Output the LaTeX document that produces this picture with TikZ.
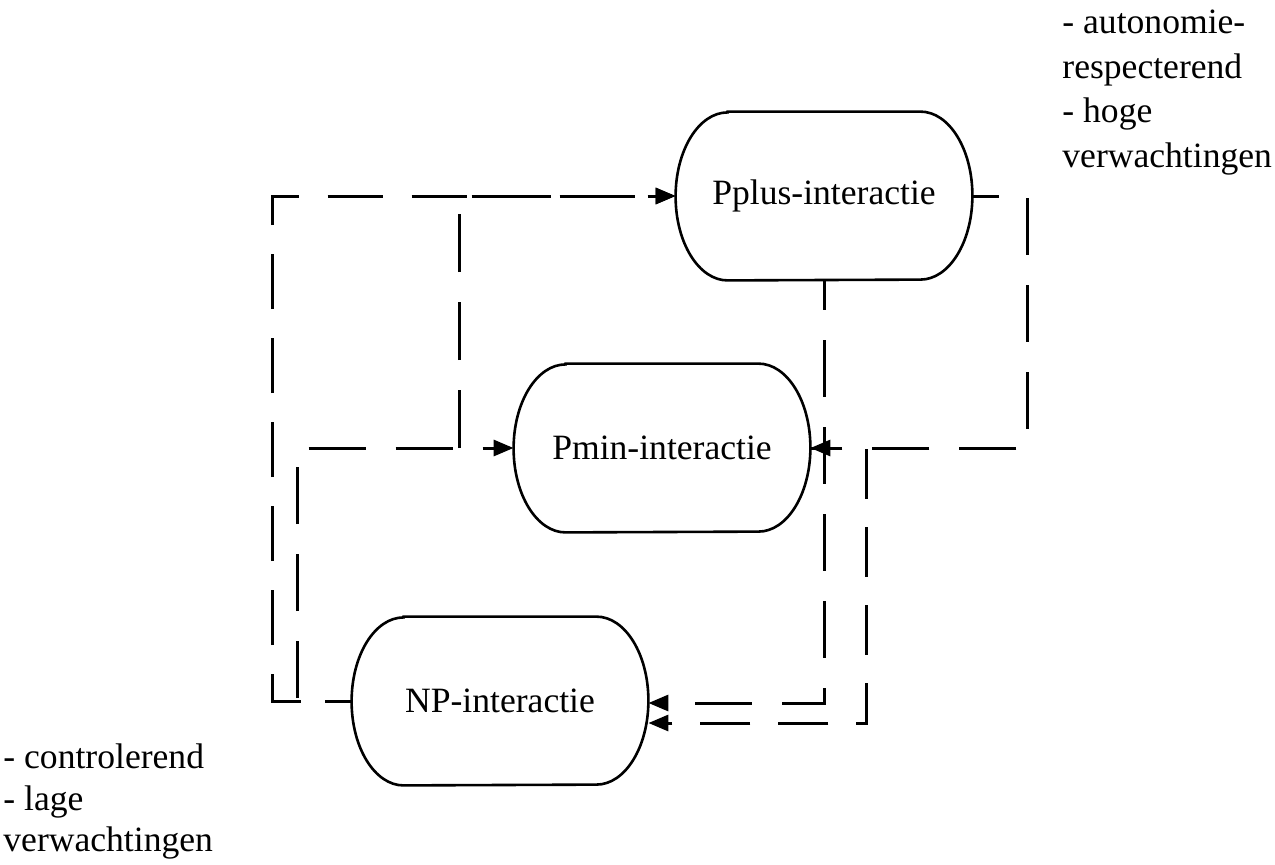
\documentclass[tikz,border=0pt]{standalone}
\usepackage{fontspec}
\setmainfont{Liberation Serif}
\usetikzlibrary{arrows.meta}

\begin{document}
\begin{tikzpicture}[x=0.5pt,y=-0.5pt,
    box/.style={minimum width=148pt, minimum height=84pt, inner sep=0pt,
        font=\fontsize{17.8}{23}\selectfont},
    outline/.style={line width=1.3pt},
    link/.style={line width=1.5pt, dash pattern=on 28.5pt off 15pt,
        -{Triangle[length=10pt,width=8pt]}},
    note/.style={inner sep=0pt, align=left}]
    \useasboundingbox (0,0) rectangle (1275,864);
    % the three interaction types
    \node[box] (pplus) at (824,196) {Pplus-interactie};
    \node[box] (pmin) at (662,448) {Pmin-interactie};
    \node[box] (np) at (500,701) {NP-interactie};
    \foreach \n in {pplus,pmin,np}
        \draw[outline] ([xshift=26pt]\n.north west) -- ([xshift=-26pt]\n.north east)
            arc[start angle=90, end angle=-90, x radius=26pt, y radius=42pt]
            -- ([xshift=26pt]\n.south west)
            arc[start angle=270, end angle=90, x radius=26pt, y radius=42pt] -- cycle;
    % left hand side
    \draw[link, dash pattern=on 27.5pt off 14.5pt, dash phase=16.5pt]
        (np.west) -- ++(-79,0) |- (pplus.west);
    \draw[link, dash phase=15pt] (np.west) -- ++(-54,0) |- (pmin.west);
    \draw[link, dash pattern=on 29pt off 15pt] ([xshift=-27pt]pmin.west) |- (pplus.west);
    % right hand side
    \draw[link, dash phase=15pt] (pplus.east) -- ++(55,0) |- (pmin.east);
    \draw[link, dash phase=13.5pt] (pplus.south) |- ([yshift=-1pt]np.east);
    \draw[link, dash pattern=on 25pt off 14pt, dash phase=10.5pt]
        (pmin.east) -- ++(56,0) |- ([yshift=-11pt]np.east);
    % notes
    \node[note, anchor=north west, font=\fontsize{17.8}{22.2}\selectfont] (pluslabel)
        at (1062,10) {- autonomie-\\respecterend\\- hoge\\verwachtingen};
    \node[note, anchor=south west, font=\fontsize{17.8}{20.8}\selectfont] (nplabel)
        at (3,860) {- controlerend\\- lage\\verwachtingen};
\end{tikzpicture}
\end{document}
